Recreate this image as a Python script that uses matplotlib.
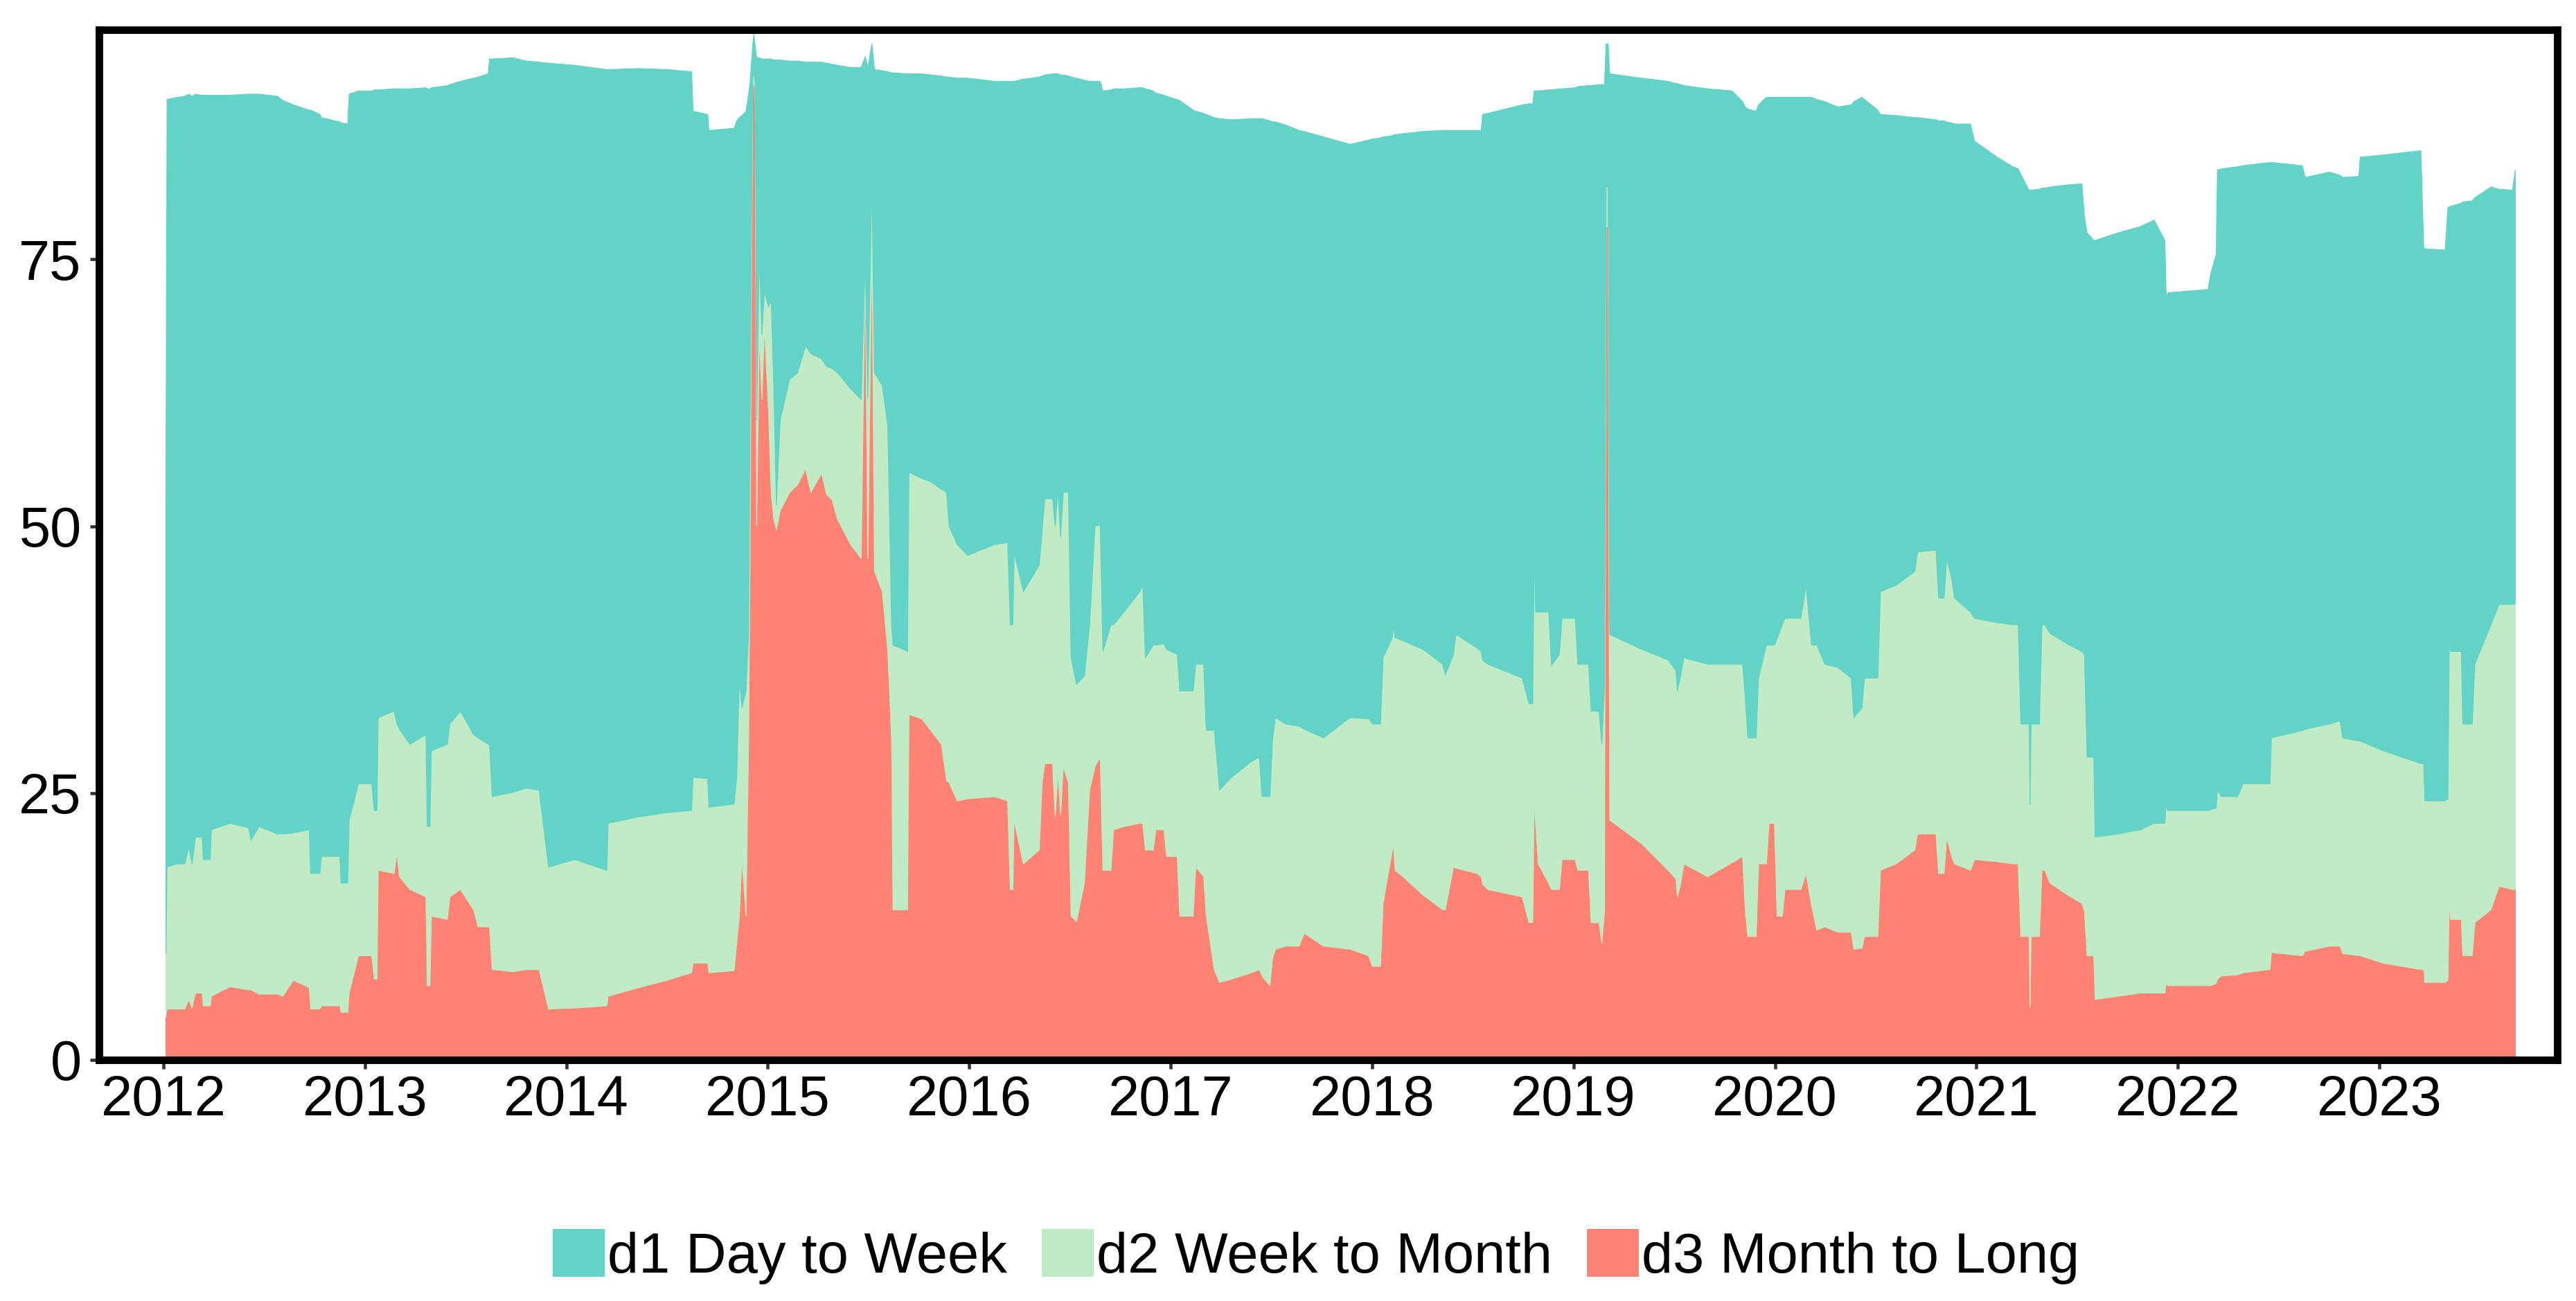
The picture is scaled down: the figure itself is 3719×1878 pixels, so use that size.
import matplotlib
matplotlib.use("Agg")
import matplotlib.pyplot as plt
from matplotlib.patches import Patch
import numpy as np

# ---------------- data (decimal years) ----------------
dates = [
    2012.010, 2012.016, 2012.064, 2012.104, 2012.124, 2012.140, 2012.157, 2012.190, 2012.196, 2012.230,
    2012.236, 2012.328, 2012.420, 2012.433, 2012.472, 2012.564, 2012.591, 2012.643, 2012.722, 2012.729,
    2012.775, 2012.782, 2012.874, 2012.880, 2012.913, 2012.920, 2012.966, 2013.032, 2013.045, 2013.058,
    2013.064, 2013.143, 2013.157, 2013.170, 2013.222, 2013.301, 2013.308, 2013.321, 2013.328, 2013.407,
    2013.420, 2013.472, 2013.538, 2013.560, 2013.610, 2013.617, 2013.630, 2013.733,
    2013.800, 2013.863, 2013.910, 2014.041, 2014.199, 2014.206, 2014.357, 2014.500, 2014.620, 2014.627,
    2014.700, 2014.706, 2014.831, 2014.844, 2014.857, 2014.870, 2014.890, 2014.903, 2014.910, 2014.923,
    2014.929, 2014.936, 2014.943, 2014.956, 2014.969, 2014.982, 2015.002, 2015.015, 2015.028, 2015.041,
    2015.060, 2015.107, 2015.146, 2015.186, 2015.212, 2015.265, 2015.290, 2015.318, 2015.344, 2015.410,
    2015.462, 2015.482, 2015.495, 2015.515, 2015.528, 2015.567, 2015.594, 2015.613, 2015.620, 2015.692,
    2015.699, 2015.762,
    2015.807, 2015.860, 2015.886, 2015.899, 2015.939, 2015.991, 2016.123, 2016.189, 2016.202, 2016.215,
    2016.221, 2016.267, 2016.346, 2016.360, 2016.373, 2016.412, 2016.425, 2016.439, 2016.452, 2016.465,
    2016.491, 2016.504, 2016.531, 2016.570, 2016.596, 2016.623, 2016.649, 2016.662, 2016.702, 2016.715,
    2016.767, 2016.846, 2016.860, 2016.873, 2016.912, 2016.925, 2016.965, 2016.978, 2017.031, 2017.044,
    2017.110, 2017.123, 2017.162, 2017.175, 2017.215, 2017.241, 2017.300, 2017.400, 2017.439, 2017.452,
    2017.491, 2017.504, 2017.518, 2017.570, 2017.636, 2017.662, 2017.757,
    2017.889, 2017.981, 2018.000, 2018.040, 2018.053, 2018.099, 2018.106, 2018.112, 2018.152, 2018.250,
    2018.349, 2018.362, 2018.402, 2018.415, 2018.520, 2018.540, 2018.547, 2018.573, 2018.744, 2018.777,
    2018.796, 2018.803, 2018.810, 2018.823, 2018.875, 2018.889, 2018.928, 2018.941, 2019.007, 2019.020,
    2019.073, 2019.086, 2019.125, 2019.139, 2019.152, 2019.160, 2019.170, 2019.178, 2019.336, 2019.468,
    2019.507, 2019.514, 2019.530, 2019.546, 2019.665, 2019.785,
    2019.838, 2019.851, 2019.864, 2019.905, 2019.917, 2019.956, 2019.969, 2019.996, 2020.009, 2020.035,
    2020.048, 2020.127, 2020.153, 2020.180, 2020.206, 2020.246, 2020.311, 2020.377, 2020.390, 2020.430,
    2020.443, 2020.509, 2020.522, 2020.600, 2020.693, 2020.706, 2020.798, 2020.811, 2020.838, 2020.851,
    2020.877, 2020.890, 2020.969, 2020.989, 2021.101, 2021.180, 2021.206, 2021.219, 2021.260, 2021.265,
    2021.270, 2021.311, 2021.324, 2021.338, 2021.364, 2021.450, 2021.522, 2021.535, 2021.548, 2021.581,
    2021.588, 2021.700, 2021.814,
    2021.881, 2021.934, 2021.941, 2021.948, 2022.148, 2022.162, 2022.189, 2022.195, 2022.215, 2022.296,
    2022.322, 2022.456, 2022.463, 2022.617, 2022.630, 2022.751, 2022.804, 2022.817, 2022.897, 2022.904,
    2023.018, 2023.205, 2023.219, 2023.225, 2023.326, 2023.339, 2023.346, 2023.353, 2023.406, 2023.413,
    2023.460, 2023.473, 2023.553, 2023.593, 2023.660, 2023.674,
]

# upper edge of the d1 band (stack total)
d1_upper = [
    52.0, 90.0, 90.2, 90.3, 90.5, 90.3, 90.5, 90.4, 90.4, 90.4,
    90.4, 90.4, 90.5, 90.5, 90.5, 90.3, 89.9, 89.5, 89.0, 89.0,
    88.6, 88.3, 87.9, 87.8, 87.7, 90.5, 90.8, 90.8, 90.9, 90.9,
    90.9, 91.0, 91.0, 91.0, 91.0, 91.1, 91.0, 91.0, 91.1, 91.3,
    91.4, 91.7, 92.0, 92.1, 92.4, 93.8, 93.8, 93.9,
    93.6, 93.5, 93.4, 93.2, 92.8, 92.8, 92.9, 92.8, 92.6, 88.9,
    88.6, 87.1, 87.3, 88.0, 88.3, 88.5, 88.9, 90.5, 91.5, 95.0,
    96.1, 95.0, 93.9, 93.9, 93.8, 93.8, 93.8, 93.8, 93.7, 93.7,
    93.7, 93.6, 93.6, 93.5, 93.5, 93.5, 93.4, 93.3, 93.2, 93.0,
    93.0, 94.0, 93.0, 95.2, 92.8, 92.7, 92.6, 92.5, 92.5, 92.4,
    92.4, 92.4,
    92.3, 92.2, 92.1, 92.1, 92.0, 92.0, 91.7, 91.7, 91.7, 91.7,
    91.7, 91.9, 92.1, 92.2, 92.3, 92.4, 92.4, 92.4, 92.3, 92.3,
    92.2, 92.1, 92.0, 91.8, 91.7, 91.7, 91.7, 90.8, 90.9, 91.0,
    91.0, 91.1, 91.1, 91.0, 90.8, 90.6, 90.4, 90.3, 90.0, 89.9,
    89.0, 88.9, 88.7, 88.6, 88.3, 88.2, 88.1, 88.2, 88.2, 88.2,
    88.0, 87.9, 87.9, 87.6, 87.1, 87.0, 86.5,
    85.8, 86.2, 86.3, 86.4, 86.5, 86.6, 86.7, 86.7, 86.8, 87.0,
    87.1, 87.1, 87.1, 87.1, 87.1, 87.1, 88.6, 88.7, 89.5, 89.6,
    89.6, 90.8, 90.8, 90.8, 90.9, 90.9, 91.0, 91.0, 91.1, 91.2,
    91.3, 91.3, 91.4, 91.4, 91.4, 95.2, 95.2, 92.4, 92.0, 91.7,
    91.5, 91.5, 91.4, 91.3, 91.0, 90.8,
    89.8, 89.3, 89.1, 88.9, 89.5, 90.2, 90.2, 90.2, 90.2, 90.2,
    90.2, 90.2, 90.2, 90.2, 90.0, 89.8, 89.3, 89.5, 89.8, 90.2,
    90.0, 89.0, 88.6, 88.5, 88.3, 88.3, 88.1, 88.0, 88.0, 87.9,
    87.8, 87.7, 87.7, 86.1, 84.6, 83.7, 83.5, 83.0, 81.5, 81.5,
    81.5, 81.6, 81.7, 81.7, 81.8, 82.0, 82.1, 79.0, 77.5, 76.8,
    76.8, 77.5, 78.1,
    78.7, 76.8, 71.2, 71.9, 72.2, 73.7, 75.5, 83.4, 83.5, 83.7,
    83.8, 84.1, 84.1, 83.8, 82.7, 83.2, 82.9, 82.7, 82.8, 84.6,
    84.8, 85.2, 76.2, 76.0, 75.9, 79.9, 79.9, 80.0, 80.3, 80.4,
    80.5, 80.8, 81.8, 81.6, 81.5, 83.4,
]

# upper edge of the d2 band
d2_upper = [
    10.0, 18.1, 18.4, 18.4, 20.0, 18.4, 20.9, 20.9, 18.8, 18.8,
    21.6, 22.2, 21.8, 20.6, 21.9, 21.2, 21.2, 21.3, 21.6, 17.5,
    17.5, 19.1, 19.1, 16.6, 16.6, 22.5, 25.9, 25.9, 23.4, 23.4,
    32.1, 32.7, 31.5, 31.0, 29.6, 30.5, 21.9, 21.9, 29.0, 29.6,
    31.5, 32.7, 30.5, 30.2, 29.6, 29.6, 24.7, 25.1,
    25.5, 25.3, 18.1, 18.8, 17.8, 22.2, 22.8, 23.2, 23.4, 26.5,
    26.4, 23.7, 24.0, 26.5, 35.8, 33.0, 34.6, 40.0, 59.4, 92.0,
    92.5, 91.5, 60.0, 75.6, 68.0, 72.0, 70.6, 71.2, 63.2, 52.0,
    60.0, 63.8, 64.4, 66.9, 66.2, 65.7, 65.0, 64.8, 64.4, 62.9,
    61.9, 75.0, 62.0, 82.4, 64.4, 63.2, 59.4, 40.8, 38.9, 38.3,
    55.1, 54.5,
    54.2, 53.5, 53.2, 50.0, 48.3, 47.3, 48.3, 48.5, 40.8, 40.8,
    47.6, 43.9, 46.4, 49.5, 52.6, 52.6, 50.0, 53.5, 49.0, 53.2,
    53.2, 37.7, 35.2, 36.0, 40.8, 50.1, 50.1, 38.3, 40.8, 40.8,
    42.0, 43.9, 44.5, 37.7, 38.9, 38.9, 39.0, 38.5, 38.0, 34.6,
    34.6, 37.1, 37.1, 30.9, 30.9, 25.3, 26.5, 28.0, 28.4, 24.7,
    24.7, 30.0, 32.1, 31.5, 31.3, 31.0, 30.2,
    32.1, 32.0, 31.5, 31.5, 37.7, 39.6, 40.8, 39.6, 39.3, 38.5,
    37.1, 36.1, 38.0, 39.9, 38.6, 38.3, 37.5, 37.1, 35.8, 33.4,
    33.4, 48.3, 42.0, 42.0, 42.0, 37.0, 38.0, 41.4, 41.4, 37.1,
    37.1, 32.7, 32.7, 29.6, 35.0, 81.8, 81.8, 39.9, 38.5, 37.5,
    36.5, 34.6, 36.0, 37.7, 37.1, 37.1,
    37.1, 34.0, 30.2, 30.2, 35.8, 38.9, 38.9, 38.9, 39.5, 40.8,
    41.4, 41.4, 44.5, 38.9, 38.9, 37.1, 36.8, 35.8, 32.1, 33.0,
    35.8, 35.8, 43.9, 44.5, 45.8, 47.6, 47.8, 43.3, 43.3, 47.0,
    45.0, 43.3, 42.0, 41.4, 41.0, 40.8, 40.8, 31.5, 31.5, 24.0,
    31.5, 31.5, 40.8, 40.8, 40.0, 39.0, 38.3, 38.0, 28.4, 28.4,
    20.9, 21.2, 21.6,
    22.2, 22.2, 24.0, 23.4, 23.4, 23.5, 23.6, 25.3, 24.7, 24.7,
    25.9, 25.9, 30.2, 30.9, 31.0, 31.5, 31.8, 30.2, 29.9, 29.9,
    29.0, 27.8, 27.8, 24.3, 24.3, 24.5, 39.6, 38.3, 38.3, 31.5,
    31.5, 37.1, 40.8, 42.7, 42.7, 42.8,
]

# upper edge of the d3 band (d3 value)
d3_upper = [
    4.0, 4.8, 4.8, 4.8, 5.7, 4.9, 6.3, 6.3, 5.1, 5.1,
    6.0, 6.9, 6.6, 6.6, 6.2, 6.2, 6.0, 7.5, 6.8, 4.8,
    4.8, 5.1, 5.1, 4.5, 4.5, 6.3, 9.8, 9.8, 7.6, 7.6,
    17.8, 17.5, 19.4, 17.2, 16.0, 15.3, 7.0, 7.0, 13.5, 13.2,
    15.3, 16.0, 14.1, 12.5, 12.5, 12.5, 8.5, 8.3,
    8.5, 8.5, 4.8, 4.9, 5.1, 6.0, 6.8, 7.5, 8.2, 9.1,
    9.1, 8.2, 8.4, 11.0, 13.5, 19.0, 13.5, 30.0, 47.0, 91.0,
    91.7, 91.0, 50.1, 68.1, 61.9, 68.8, 60.7, 53.2, 50.7, 49.7,
    51.5, 53.2, 53.9, 55.4, 53.2, 55.0, 53.0, 52.5, 50.7, 48.3,
    47.0, 75.0, 47.0, 76.8, 45.8, 43.9, 38.3, 30.0, 14.1, 14.1,
    32.4, 32.0,
    30.9, 29.6, 26.2, 26.0, 24.3, 24.5, 24.7, 24.3, 16.0, 16.0,
    22.5, 18.4, 19.7, 25.9, 27.8, 27.8, 22.8, 27.0, 23.0, 27.5,
    26.0, 13.5, 13.0, 16.6, 25.3, 27.5, 28.4, 17.8, 17.8, 21.6,
    21.9, 22.2, 22.2, 19.7, 19.7, 21.6, 21.6, 19.1, 19.1, 13.5,
    13.5, 18.1, 17.2, 13.5, 8.5, 7.3, 7.6, 8.2, 8.5, 7.9,
    7.0, 9.5, 10.4, 10.7, 10.7, 11.9, 10.7,
    10.4, 9.8, 8.8, 8.8, 14.7, 19.7, 20.0, 17.8, 17.2, 15.5,
    14.1, 14.1, 18.1, 18.0, 17.5, 17.2, 16.5, 16.0, 15.3, 12.9,
    12.9, 24.7, 22.2, 18.4, 16.6, 16.0, 16.0, 18.8, 18.8, 17.8,
    17.8, 12.9, 12.9, 11.0, 14.0, 78.1, 78.1, 22.5, 20.3, 17.8,
    17.0, 15.3, 16.5, 18.4, 17.2, 18.5,
    19.1, 14.0, 11.6, 11.6, 18.4, 18.4, 22.2, 22.2, 13.5, 13.5,
    16.0, 16.0, 17.5, 14.5, 12.2, 12.5, 12.0, 12.0, 10.4, 10.5,
    11.6, 11.6, 17.8, 18.4, 19.7, 21.2, 21.2, 17.5, 17.5, 20.9,
    19.0, 18.4, 17.8, 18.8, 18.6, 18.4, 18.4, 11.6, 11.6, 5.0,
    11.6, 11.6, 17.8, 17.8, 16.6, 15.5, 14.7, 14.0, 9.8, 9.8,
    5.7, 6.0, 6.3,
    6.3, 6.3, 7.3, 7.0, 7.0, 7.0, 7.2, 7.6, 7.9, 8.0,
    8.2, 8.5, 10.1, 9.8, 10.2, 10.7, 10.7, 10.0, 9.8, 9.8,
    9.1, 8.5, 8.5, 7.3, 7.3, 7.5, 14.7, 13.2, 13.2, 9.8,
    9.8, 12.9, 14.1, 16.3, 16.0, 16.0,
]

series_labels = ["d1 Day to Week", "d2 Week to Month", "d3 Month to Long"]
year_ticks = list(range(2012, 2024))
y_ticks = [0, 25, 50, 75]

# ---------------- style ----------------
colors = {"d1": "#63D3C7", "d2": "#C0EBC4", "d3": "#FF8272"}
plt.rcParams['font.family'] = ['Liberation Sans', 'DejaVu Sans']

W, H, DPI = 3719, 1878, 300
fig = plt.figure(figsize=(W / DPI, H / DPI), dpi=DPI)
ax = fig.add_axes([143 / W, (H - 1530) / H, (3692 - 143) / W, (1530 - 43) / H])

x = np.array(dates)
lo = np.zeros_like(x)
b = np.array(d3_upper)
m = np.array(d2_upper)
t = np.array(d1_upper)

ax.fill_between(x, lo, b, facecolor=colors["d3"], edgecolor=colors["d3"], lw=0.3, zorder=1)
ax.fill_between(x, b, m, facecolor=colors["d2"], edgecolor=colors["d2"], lw=0.3, zorder=1)
ax.fill_between(x, m, t, facecolor=colors["d1"], edgecolor=colors["d1"], lw=0.3, zorder=1)

ax.set_xlim(2011.680, 2023.884)
ax.set_ylim(0, 96.5)
ax.set_xticks(year_ticks)
ax.set_xticklabels([str(y) for y in year_ticks])
ax.set_yticks(y_ticks)
ax.set_yticklabels([str(v) for v in y_ticks])

for sp in ax.spines.values():
    sp.set_linewidth(2.6)
    sp.set_color("black")
    sp.set_zorder(5)

ax.tick_params(axis='both', direction='out', length=3.1, width=1.1, color='#333333',
               labelsize=19.5, labelcolor='black')
ax.tick_params(axis='x', pad=2.0)
ax.tick_params(axis='y', pad=3.0)

handles = [Patch(facecolor=colors["d1"], edgecolor='none'),
           Patch(facecolor=colors["d2"], edgecolor='none'),
           Patch(facecolor=colors["d3"], edgecolor='none')]
fig.legend(handles, series_labels, loc='center', bbox_to_anchor=(1900 / W, (H - 1814) / H),
           ncol=3, frameon=False, fontsize=19.5, handlelength=0.92, handleheight=0.92,
           handletextpad=0.05, columnspacing=0.62, borderpad=0, borderaxespad=0)

fig.savefig("out.png", dpi=DPI)
